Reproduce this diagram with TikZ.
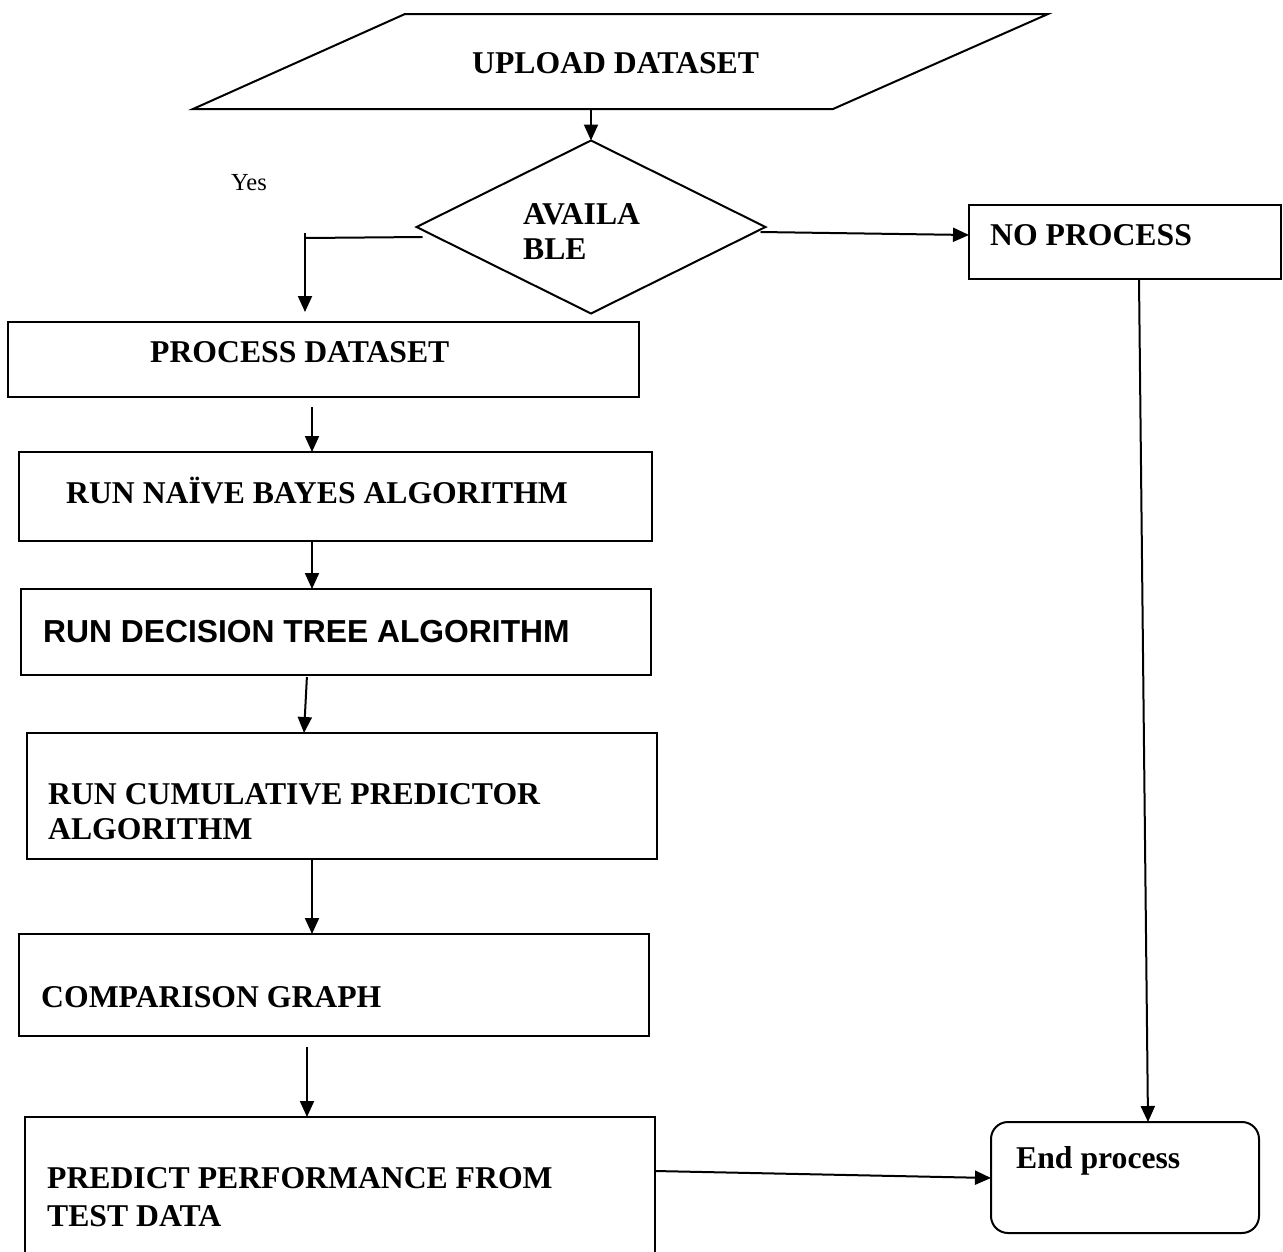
\documentclass[tikz,border=0pt]{standalone}
\usepackage{fontspec}
\setmainfont{Liberation Serif}
\newfontfamily\arialfont{Liberation Sans}
\usetikzlibrary{arrows.meta,shapes.geometric}
\begin{document}
\begin{tikzpicture}[x=1pt,y=-1pt,
  outline/.style={draw=black,line width=2pt},
  box/.style={outline,rectangle,inner sep=0pt,outer sep=0pt,anchor=north west},
  lbl/.style={anchor=base west,inner sep=0pt,font=\bfseries\fontsize{31.7}{35}\selectfont,align=left},
  arr/.style={line width=2pt,-{Triangle[length=16pt,width=14pt]}},
  plain/.style={line width=2pt}]

\fill[white] (0,0) rectangle (1283,1251);
\useasboundingbox (0,0) rectangle (1283,1251);

% input parallelogram
\draw[outline,line join=miter] (193,109) -- (405,14) -- (1048,14) -- (833,109) -- cycle;
\node[lbl] (uploadT) at (472,73) {UPLOAD DATASET};
\coordinate (uploadB) at (591,109);

% decision
\node[diamond,outline,minimum width=349pt,minimum height=173pt,inner sep=0pt,outer sep=0pt] (dia) at (591,227) {};
\node[lbl] (diaT) at (523,259) {AVAILA\\BLE};
\node[anchor=base west,inner sep=0pt,font=\fontsize{24.5}{28}\selectfont] (yes) at (231,190) {Yes};

% boxes
\node[box,minimum width=312pt,minimum height=74pt] (nop) at (969,205) {};
\node[lbl] (nopT) at (990,245) {NO PROCESS};

\node[box,minimum width=631pt,minimum height=75pt] (proc) at (8,322) {};
\node[lbl] (procT) at (150,362) {PROCESS DATASET};

\node[box,minimum width=633pt,minimum height=89pt] (nb) at (19,452) {};
\node[lbl] (nbT) at (66,503) {RUN NAÏVE BAYES ALGORITHM};

\node[box,minimum width=630pt,minimum height=86pt] (dt) at (21,589) {};
\node[lbl,font=\arialfont\bfseries\fontsize{31.8}{35}\selectfont] (dtT) at (43,642) {RUN DECISION TREE ALGORITHM};

\node[box,minimum width=630pt,minimum height=126pt] (cp) at (27,733) {};
\node[lbl] (cpT) at (48,839) {RUN CUMULATIVE PREDICTOR\\ALGORITHM};

\node[box,minimum width=630pt,minimum height=102pt] (cg) at (19,934) {};
\node[lbl] (cgT) at (41,1007) {COMPARISON GRAPH};

\node[box,minimum width=630pt,minimum height=160pt] (pp) at (25,1117) {};
\node[lbl,font=\bfseries\fontsize{31.7}{38}\selectfont] (ppT) at (47,1226) {PREDICT PERFORMANCE FROM\\TEST DATA};

\node[box,rounded corners=17pt,minimum width=268pt,minimum height=111pt] (endp) at (991,1122) {};
\node[lbl] (endT) at (1016,1168) {End process};

% connectors
\draw[arr] (uploadB) -- (dia.north);
\coordinate (yesStart) at ([xshift=6pt,yshift=-10pt]dia.west);
\coordinate (yesTick) at (305,233);
\coordinate (yesCorner) at (305,238);
\draw[plain] (yesStart) -- (yesCorner);
\draw[arr,shorten >=10pt] (yesTick) -- (proc.north -| yesTick);
\draw[arr] ([xshift=-5pt,yshift=-5pt]dia.east) -- (nop.west |- 0,235);
\draw[arr] (nop.south -| 1139,0) -- (endp.north -| 1148,0);
\draw[arr,shorten <=10pt] (proc.south -| 312,0) -- (nb.north -| 312,0);
\draw[arr] (nb.south -| 312,0) -- (dt.north -| 312,0);
\draw[arr,shorten <=2pt] (dt.south -| 307,0) -- (cp.north -| 304,0);
\draw[arr] (cp.south -| 312,0) -- (cg.north -| 312,0);
\draw[arr,shorten <=11pt] (cg.south -| 307,0) -- (pp.north -| 307,0);
\draw[arr] (pp.east |- 0,1171) -- (endp.west |- 0,1178);
\end{tikzpicture}
\end{document}
